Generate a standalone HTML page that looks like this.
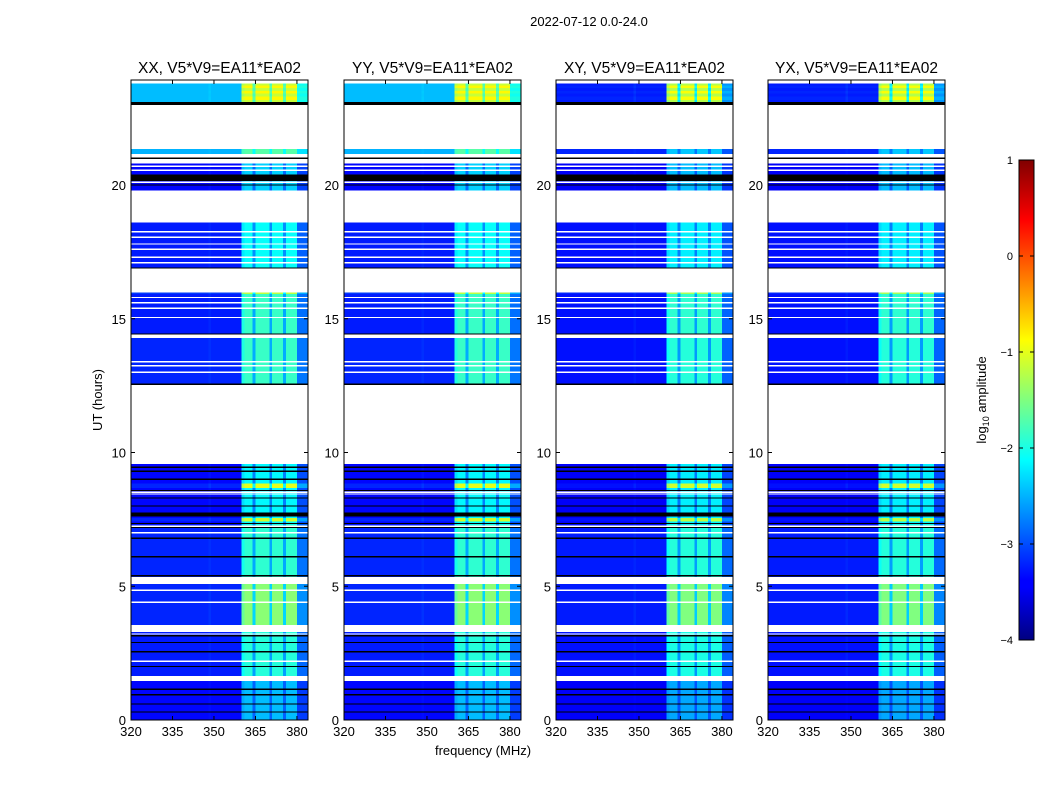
<!DOCTYPE html>
<html><head><meta charset="utf-8">
<style>
body{margin:0;background:#fff;}
svg text{font-family:"Liberation Sans",sans-serif;fill:#000;}
</style></head>
<body>
<svg id="chart" width="1050" height="800" xmlns="http://www.w3.org/2000/svg">
<defs>
<linearGradient id="jet" x1="0" y1="1" x2="0" y2="0">
<stop offset="0" stop-color="#000080"/><stop offset="0.11" stop-color="#0000ff"/>
<stop offset="0.125" stop-color="#0000ff"/><stop offset="0.375" stop-color="#00ffff"/>
<stop offset="0.625" stop-color="#ffff00"/><stop offset="0.875" stop-color="#ff0000"/>
<stop offset="1" stop-color="#800000"/>
</linearGradient>
</defs>
<text x="589" y="26" font-size="13" text-anchor="middle">2022-07-12 0.0-24.0</text>
<text x="483" y="755" font-size="13" text-anchor="middle">frequency (MHz)</text>
<text transform="translate(102,400) rotate(-90)" font-size="13" text-anchor="middle">UT (hours)</text>
<g id="panels"></g>
<g>
<rect x="1019" y="160" width="15" height="480" fill="url(#jet)" stroke="#000" stroke-width="1"/>
<g id="cbticks"></g>
<text transform="translate(986,400) rotate(-90)" font-size="13" text-anchor="middle">log<tspan font-size="9" dy="3">10</tspan><tspan dy="-3"> amplitude</tspan></text>
</g>
</svg>
<script>
// ---- data ----
const panelTitles = ["XX, V5*V9=EA11*EA02","YY, V5*V9=EA11*EA02","XY, V5*V9=EA11*EA02","YX, V5*V9=EA11*EA02"];
const panelIsCross = [false,false,true,true];
const panelLeft = [131,344,556,768];
const freqBins = [];            // 1-MHz channel starts
for (let f=320; f<384; f++) freqBins.push(f);
// channel boost (relative emission inside band), per 1 MHz bin 320..383
const channelBoost = [
0,0,0,0,0,0,0,0,0,0, 0,0,0,0,0,0,0,0,0,0,
0,0,0,0,0,0,0,0,0.04,0, 0,0,0,0,0,0,0,0,0,0,
0.9,1,1,1,0.5,1,1,1,1,1, 0.5,1,1,1,1,0.5,1,1,1,1,
0.3,0.3,0.3,0.3];
// time rows (hours)
const rowStart = [0,1.65,3.55,5.35,7.3,12.52,14.43,16.9,19.8,21.15,23.1,7.42,8.68,23.18,23.42,23.62,15.92];
const rowEnd   = [1.45,3.29,5.08,7.3,9.57,14.28,15.96,18.6,20.8,21.35,23.8,7.55,8.85,23.3,23.52,23.72,15.98];
const rowBaseParallel = [-3.35,-3.25,-3.2,-3.2,-3.35,-3.2,-3.25,-3.25,-3.35,-2.5,-2.45,-3.2,-3.2,-2.45,-2.45,-2.45,-3.1];
const rowBaseCross    = [-3.4,-3.3,-3.25,-3.25,-3.4,-3.3,-3.3,-3.3,-3.4,-3.2,-3.25,-3.3,-3.3,-3.2,-3.2,-3.2,-3.2];
const rowBoostParallel= [0.9,1.3,1.75,1.3,1.2,1.35,1.4,1.15,1.0,0.8,1.3,2.1,2.2,1.6,1.6,1.6,1.9];
const rowBoostCross   = [0.85,1.3,1.75,1.3,1.2,1.35,1.4,1.1,0.95,0.8,2.0,2.1,2.2,2.3,2.3,2.3,1.9];
const blackLines = [0.3,0.6,0.95,1.15,2.0,2.55,2.9,3.15,5.4,6.1,6.8,7.2,7.35,7.7,8.0,8.3,8.58,9.0,9.3,9.45,12.55,14.43,16.9,20.0,21.0];
const blackBands = [[20.15,20.4],[23.0,23.1],[7.6,7.75]];
const whiteLines = [1.6,2.2,3.22,4.4,4.85,7.0,7.25,8.45,8.52,13.0,13.25,13.4,15.05,15.4,15.6,15.8,17.1,17.3,17.6,17.8,18.05,18.25,20.1,20.55,20.7,23.85];
const xTicks = [320,335,350,365,380];
const yTicks = [0,5,10,15,20];
const cbTicks = [1,0,-1,-2,-3,-4];

// ---- scales ----
const W=177, TOP=80, BOT=720;
const xs = (f,p)=> panelLeft[p] + (f-320)*(W/64);
const ys = h => BOT - h*26.75;
const vmin=-4, vmax=1;
function jet(v){
  let t=(v-vmin)/(vmax-vmin); t=Math.max(0,Math.min(1,t));
  const c=x=>Math.round(255*Math.max(0,Math.min(1,x)));
  return `rgb(${c(1.5-Math.abs(4*t-3))},${c(1.5-Math.abs(4*t-2))},${c(1.5-Math.abs(4*t-1))})`;
}
const NS="http://www.w3.org/2000/svg";
function mk(tag,attrs,parent){const e=document.createElementNS(NS,tag);for(const k in attrs)e.setAttribute(k,attrs[k]);parent.appendChild(e);return e;}

const root=document.getElementById('panels');
for(let p=0;p<4;p++){
  const g=mk('g',{},root);
  
  
  const cells=mk('g',{'shape-rendering':'crispEdges'},g);
  
  
  const base = panelIsCross[p]?rowBaseCross:rowBaseParallel;
  const boost= panelIsCross[p]?rowBoostCross:rowBoostParallel;
  for(let r=0;r<rowStart.length;r++){
    const y1=ys(rowEnd[r]), y2=ys(rowStart[r]);
    for(let i=0;i<freqBins.length;i++){
      const v=base[r]+boost[r]*channelBoost[i];
      const x1=xs(freqBins[i],p), x2=xs(freqBins[i]+1,p);
      const c=mk('rect',{x:x1,y:y1,width:x2-x1+0.3,height:y2-y1,fill:jet(v)},cells);
      
      
    }
  }
  for(const h of blackLines){
    const l=mk('rect',{x:panelLeft[p],y:ys(h)-0.6,width:W,height:1.3,fill:'#000'},cells);
    
    
  }
  for(const b of blackBands){
    const l=mk('rect',{x:panelLeft[p],y:ys(b[1]),width:W,height:ys(b[0])-ys(b[1]),fill:'#000'},cells);
    
    
  }
  for(const h of whiteLines){
    const l=mk('rect',{x:panelLeft[p],y:ys(h)-0.6,width:W,height:1.3,fill:'#fff'},cells);
    
    
  }
  const fr=mk('rect',{x:panelLeft[p],y:TOP,width:W,height:BOT-TOP,fill:'none',stroke:'#000','stroke-width':1},g);
  
  
  const t=mk('text',{x:panelLeft[p]+W/2,y:73,'font-size':15.5,'text-anchor':'middle'},g);
  t.textContent=panelTitles[p];
  
  
  for(const f of xTicks){
    const x=xs(f,p);
    mk('line',{x1:x,x2:x,y1:BOT,y2:BOT-4,stroke:'#000'},g);
    mk('line',{x1:x,x2:x,y1:TOP,y2:TOP+4,stroke:'#000'},g);
    const tl=mk('text',{x:x,y:BOT+16,'font-size':13,'text-anchor':'middle'},g);
    tl.textContent=f;
    
    
  }
  for(const h of yTicks){
    const y=ys(h);
    mk('line',{x1:panelLeft[p],x2:panelLeft[p]+4,y1:y,y2:y,stroke:'#000'},g);
    mk('line',{x1:panelLeft[p]+W,x2:panelLeft[p]+W-4,y1:y,y2:y,stroke:'#000'},g);
    const tl=mk('text',{x:panelLeft[p]-5,y:y+5,'font-size':13,'text-anchor':'end'},g);
    tl.textContent=h;
    
    
  }
}
const cb=document.getElementById('cbticks');
for(const v of cbTicks){
  const y=160+(1-v)*96;
  mk('line',{x1:1019,x2:1023,y1:y,y2:y,stroke:'#000'},cb);
  mk('line',{x1:1034,x2:1030,y1:y,y2:y,stroke:'#000'},cb);
  const tl=mk('text',{x:1013,y:y+4,'font-size':11,'text-anchor':'end'},cb);
  tl.textContent=v<0?'\u2212'+(-v):String(v);
  
  
}
</script>
</body></html>
